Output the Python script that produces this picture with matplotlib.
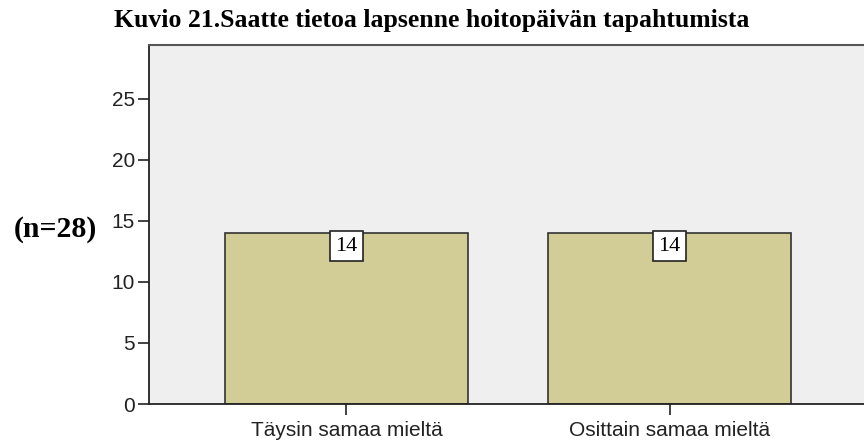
import numpy as np
import matplotlib.pyplot as plt

# data
categories = ["Täysin samaa mieltä", "Osittain samaa mieltä"]
counts = [14, 14]
yticks = [0, 5, 10, 15, 20, 25]

fig = plt.figure(figsize=(8.64, 4.46), dpi=100)
fig.patch.set_facecolor("white")
ax = fig.add_axes([149 / 864, 1 - 404 / 446, (867 - 149) / 864, (404 - 45) / 446])
ax.set_facecolor("#EFEFEF")

x = np.arange(len(categories))
bars = ax.bar(x, counts, width=0.752, color="#D2CD96", edgecolor="#333333", linewidth=1.2, zorder=2)

for xi, c in zip(x, counts):
    ax.text(xi, c - 0.3, str(c), ha="center", va="top", fontsize=16,
            family="Liberation Serif", zorder=3,
            bbox=dict(boxstyle="square,pad=0.25", facecolor="white", edgecolor="#222222", linewidth=1.2))

ax.set_xlim(-0.611, 1.611)
ax.set_ylim(0, 29.4)
ax.set_yticks(yticks)
ax.set_yticklabels([str(t) for t in yticks], family="Liberation Sans", fontsize=15, color="#222222")
ax.set_xticks(x)
ax.set_xticklabels(categories, family="Liberation Sans", fontsize=15, color="#222222")
ax.tick_params(axis="y", direction="out", length=8, width=1.2, pad=2, color="#222222")
ax.tick_params(axis="x", direction="out", length=8, width=1.2, pad=4, color="#222222")

for s in ["left", "bottom"]:
    ax.spines[s].set_linewidth(1.3)
    ax.spines[s].set_color("#222222")
ax.spines["top"].set_color("#555555")
ax.spines["top"].set_linewidth(1.5)
ax.spines["right"].set_visible(False)

fig.text(0.5, 1 - 21 / 446, "Kuvio 21.Saatte tietoa lapsenne hoitopäivän tapahtumista",
         ha="center", va="center", fontsize=18.5, fontweight="bold", family="Liberation Serif")
fig.text(14 / 864, 1 - 229 / 446, "(n=28)", ha="left", va="center", fontsize=21.5,
         fontweight="bold", family="Liberation Serif")

fig.savefig("out.png", dpi=100)
